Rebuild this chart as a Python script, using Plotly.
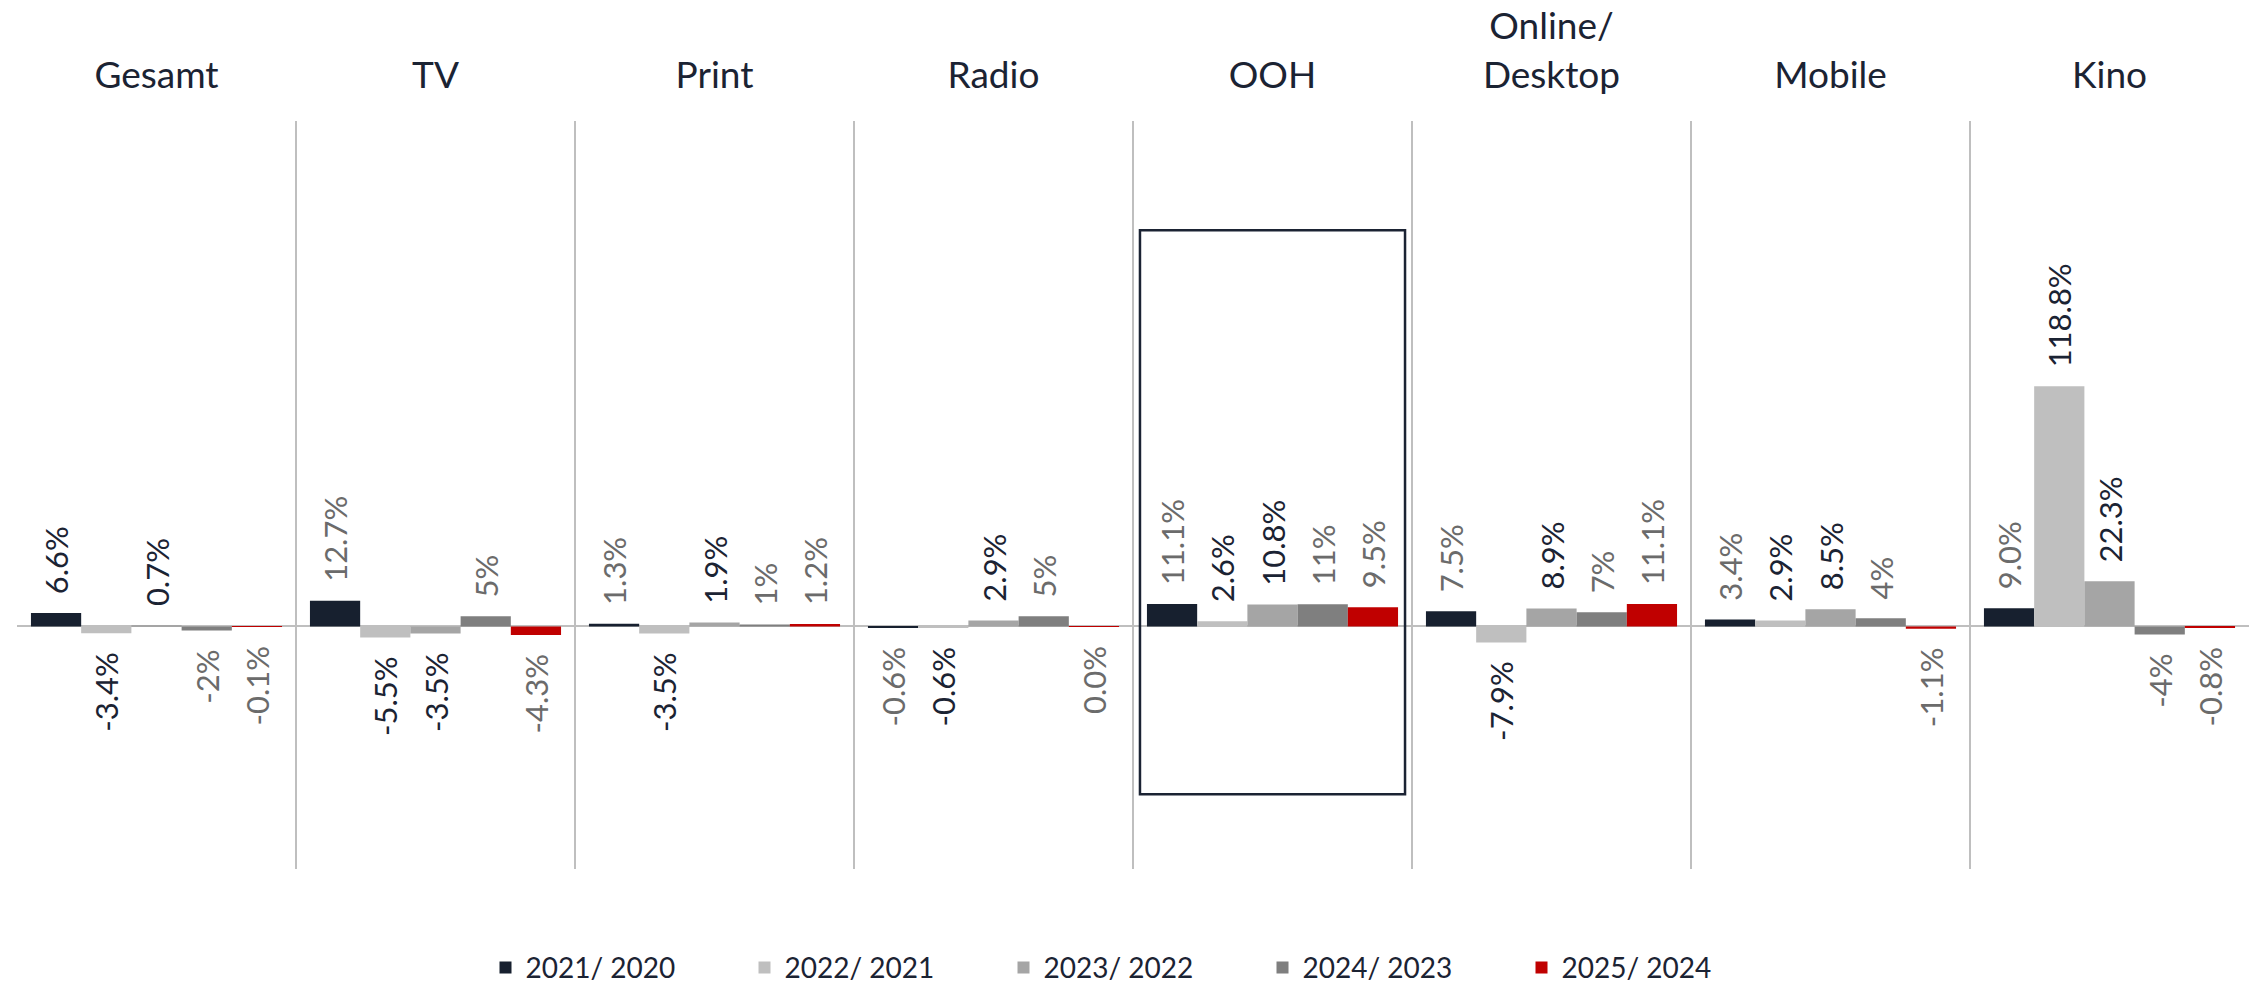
import plotly.graph_objects as go

# Media categories (x axis, labels on top)
categories = ["Gesamt", "TV", "Print", "Radio", "OOH", "Online/<br>Desktop", "Mobile", "Kino"]

# Year-over-year change in percent per period
periods = ["2021/ 2020", "2022/ 2021", "2023/ 2022", "2024/ 2023", "2025/ 2024"]
chg_2021_2020 = [6.6, 12.7, 1.3, -0.6, 11.1, 7.5, 3.4, 9.0]
chg_2022_2021 = [-3.4, -5.5, -3.5, -0.6, 2.6, -7.9, 2.9, 118.8]
chg_2023_2022 = [0.7, -3.5, 1.9, 2.9, 10.8, 8.9, 8.5, 22.3]
chg_2024_2023 = [-2, 5, 1, 5, 11, 7, 4, -4]
chg_2025_2024 = [-0.1, -4.3, 1.2, -0.03, 9.5, 11.1, -1.1, -0.8]

series = [chg_2021_2020, chg_2022_2021, chg_2023_2022, chg_2024_2023, chg_2025_2024]
decimals = [1, 1, 1, 0, 1]

# Styling
bar_colors = ["#17202f", "#bfbfbf", "#a5a5a5", "#7f7f7f", "#c00000"]
DARK = "#1b2333"
GREY = "#6b6b6b"
label_colors = [
    [DARK] + [GREY] * 7,
    [DARK] * 8,
    [DARK] * 8,
    [GREY] * 8,
    [GREY] * 8,
]
FONT = "Lato, 'Open Sans', sans-serif"
NBSP = "\u00a0"


def label(v, nd):
    txt = f"{round(v, nd) + 0.0:.{nd}f}%"
    # rotated labels: pad on the side facing the bar
    return NBSP * 2 + txt if v >= 0 else txt + NBSP * 2


fig = go.Figure()
for name, vals, color, nd, lc in zip(periods, series, bar_colors, decimals, label_colors):
    fig.add_trace(go.Bar(
        x=categories,
        y=vals,
        name=name,
        marker=dict(color=color, line=dict(width=0)),
        text=[label(v, nd) for v in vals],
        textposition="outside",
        textangle=-90,
        constraintext="none",
        cliponaxis=False,
        textfont=dict(family=FONT, size=31, color=lc),
        hoverinfo="skip",
    ))

# Highlight frame around the OOH group
fig.add_shape(type="rect", xref="x", yref="y",
              x0=3.525, x1=4.475, y0=-83, y1=196,
              line=dict(color=DARK, width=2.5), fillcolor="rgba(0,0,0,0)", layer="above")

fig.update_layout(
    width=2252, height=986,
    margin=dict(l=17, r=3, t=121, b=117, autoexpand=False),
    paper_bgcolor="white", plot_bgcolor="white",
    barmode="group", bargap=0.1, bargroupgap=0,
    font=dict(family=FONT, color=DARK),
    showlegend=True,
    legend=dict(orientation="h", x=0.5, xanchor="center", y=-0.132, yanchor="middle",
                font=dict(family=FONT, size=28, color=DARK),
                entrywidth=214, entrywidthmode="pixels", traceorder="normal"),
    xaxis=dict(side="top", tickson="boundaries", showgrid=True, gridcolor="#bfbfbf",
               gridwidth=2, ticks="", showline=False, zeroline=False,
               tickfont=dict(family=FONT, size=37, color=DARK), ticklabelstandoff=25),
    yaxis=dict(range=[-120, 250], showgrid=False, showticklabels=False, ticks="",
               zeroline=True, zerolinecolor="#bfbfbf", zerolinewidth=2, showline=False),
)

fig.write_html("out.html")
